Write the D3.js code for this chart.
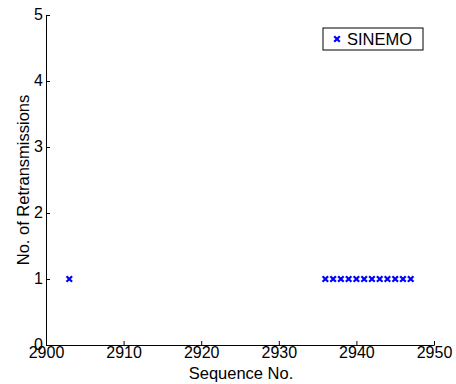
<!DOCTYPE html>
<html>
<head>
<meta charset="utf-8">
<script src="https://cdn.jsdelivr.net/npm/d3@7"></script>
<style>
  body { margin: 0; background: #fff; }
  svg { font-family: "Liberation Sans", Arial, sans-serif; }
  .axis path, .axis line { stroke: #000; }
  .axis text { font-size: 16px; fill: #000; }
</style>
</head>
<body>
<div id="chart"></div>
<script>
// data
const seqNo = [2903, 2936, 2937, 2938, 2939, 2940, 2941, 2942, 2943, 2944, 2945, 2946, 2947];
const retrans = [1, 1, 1, 1, 1, 1, 1, 1, 1, 1, 1, 1, 1];
const xTicks = [2900, 2910, 2920, 2930, 2940, 2950];
const yTicks = [0, 1, 2, 3, 4, 5];
const seriesName = "SINEMO";

const W = 456, H = 384;
const margin = { top: 15, right: 22, bottom: 39, left: 46 };
const width = W - margin.left - margin.right;
const height = H - margin.top - margin.bottom;

const svg = d3.select("#chart").append("svg")
  .attr("width", W)
  .attr("height", H);

const chart = svg.append("g")
  .attr("transform", `translate(${margin.left},${margin.top})`);

const x = d3.scaleLinear().domain([2900, 2950]).range([0, width]);
const y = d3.scaleLinear().domain([0, 5]).range([height, 0]);

// axes, ticks pointing inward like matlab
const xAxis = chart.append("g")
  .attr("class", "axis")
  .attr("transform", `translate(0,${height})`)
  .call(d3.axisBottom(x).tickValues(xTicks).tickFormat(d3.format("d"))
    .tickSizeInner(-4).tickSizeOuter(0));
xAxis.selectAll("text").attr("y", 13).attr("dy", "0");

const yAxis = chart.append("g")
  .attr("class", "axis")
  .call(d3.axisLeft(y).tickValues(yTicks).tickFormat(d3.format("d"))
    .tickSizeInner(-4).tickSizeOuter(0).tickPadding(3));
yAxis.selectAll("text").attr("dy", "0.3em");

// markers
const cross = d3.symbol().type(d3.symbolX).size(22);
chart.append("g")
  .selectAll("path")
  .data(seqNo.map((s, i) => ({ s, r: retrans[i] })))
  .enter().append("path")
  .attr("d", cross)
  .attr("transform", d => `translate(${x(d.s)},${y(d.r)})`)
  .attr("fill", "none")
  .attr("stroke", "#0000ff")
  .attr("stroke-width", 2.2);

// axis labels
svg.append("text")
  .attr("x", 241)
  .attr("y", 379)
  .attr("text-anchor", "middle")
  .attr("font-size", 16.5)
  .text("Sequence No.");

svg.append("text")
  .attr("transform", "translate(29,180) rotate(-90)")
  .attr("text-anchor", "middle")
  .attr("font-size", 16.5)
  .text("No. of Retransmissions");

// legend
const legend = svg.append("g").attr("transform", "translate(323,28)");
legend.append("rect")
  .attr("width", 100)
  .attr("height", 22)
  .attr("fill", "#fff")
  .attr("stroke", "#000");
legend.append("path")
  .attr("d", cross)
  .attr("transform", "translate(14,11)")
  .attr("fill", "none")
  .attr("stroke", "#0000ff")
  .attr("stroke-width", 2.2);
legend.append("text")
  .attr("x", 24)
  .attr("y", 17)
  .attr("font-size", 16.5)
  .text(seriesName);
</script>
</body>
</html>
